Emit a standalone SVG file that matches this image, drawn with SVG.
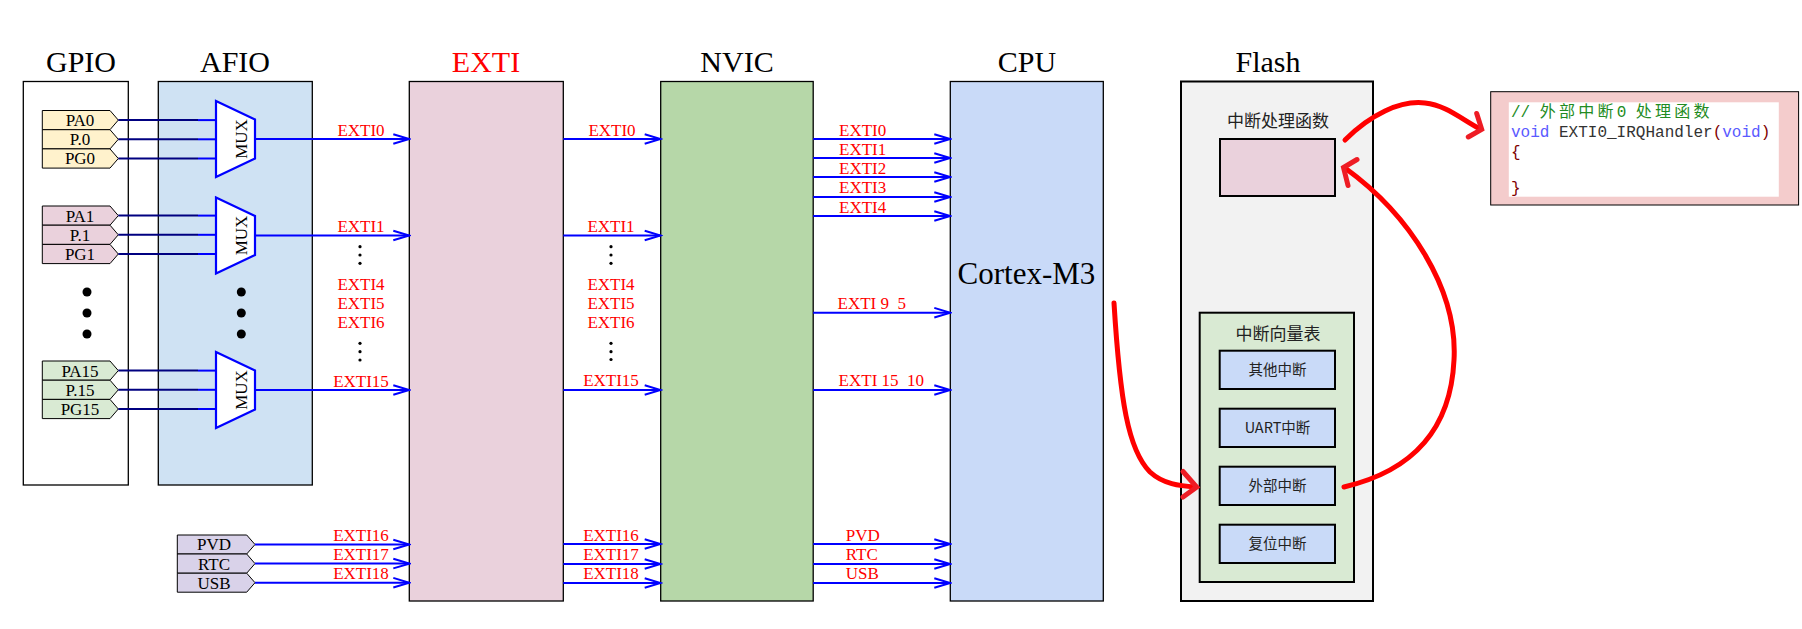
<svg xmlns="http://www.w3.org/2000/svg" width="1802" height="629" viewBox="0 0 1802 629">
<defs>
<style>
.title{font-family:"Liberation Serif",serif;font-size:30px;fill:#000;text-anchor:middle}
.lbl{font-family:"Liberation Serif",serif;font-size:17px;fill:#ff0000}
.c{text-anchor:middle}
.tag{stroke:#000;stroke-width:1}
.tagt{font-family:"Liberation Serif",serif;font-size:17px;fill:#000;text-anchor:middle}
.box{stroke:#000;stroke-width:1.3}
.box2{stroke:#000;stroke-width:2}
.wire{stroke:#0000ff;stroke-width:2;fill:none}
.arr{stroke:#0000ff;stroke-width:2;fill:none;marker-end:url(#ah)}
.navy{stroke:#000080;stroke-width:2}
.mux{fill:#fff;stroke:#0000ff;stroke-width:2.2}
.muxt{font-family:"Liberation Serif",serif;font-size:17px;fill:#000;text-anchor:middle}
.cjk{font-family:"Noto Sans CJK SC","Noto Sans",sans-serif;fill:#222;text-anchor:middle}
.red{stroke:#ff0000;stroke-width:5;fill:none;stroke-linecap:round;stroke-linejoin:round}
.redh{stroke:#ee1c24;stroke-width:5;fill:none;stroke-linecap:round;stroke-linejoin:miter}
.code{font-family:"Liberation Mono","Noto Sans CJK SC",monospace;font-size:16px}
</style>
<marker id="ah" viewBox="-18 -7 20 14" refX="0" refY="0" markerWidth="20" markerHeight="14" markerUnits="userSpaceOnUse" orient="auto">
<path d="M-16,-4.8 L0,0 L-16,4.8" fill="none" stroke="#0000ff" stroke-width="2"/>
</marker>
</defs>
<rect width="1802" height="629" fill="#fff"/>

<!-- titles -->
<text class="title" x="81" y="72">GPIO</text>
<text class="title" x="235" y="72">AFIO</text>
<text class="title" x="486" y="72" style="fill:#ff0000">EXTI</text>
<text class="title" x="737" y="72">NVIC</text>
<text class="title" x="1027" y="72">CPU</text>
<text class="title" x="1268" y="72">Flash</text>

<g id="gpio">
<rect class="box" x="23.3" y="81.5" width="105" height="403.5" fill="#fff"/>
<circle cx="87" cy="292" r="4.5" fill="#000"/>
<circle cx="87" cy="313" r="4.5" fill="#000"/>
<circle cx="87" cy="334" r="4.5" fill="#000"/>
</g>
<g id="afio">
<rect class="box" x="158.3" y="81.5" width="154" height="403.5" fill="#cfe2f3"/>
<circle cx="241.3" cy="292" r="4.5" fill="#000"/>
<circle cx="241.3" cy="313" r="4.5" fill="#000"/>
<circle cx="241.3" cy="334" r="4.5" fill="#000"/>
</g>

<g id="pins0">
<path class="tag" fill="#fff2cc" d="M42.3,110.5 H110 L118.3,120.1 L110,129.7 H42.3 Z"/>
<path class="tag" fill="#fff2cc" d="M42.3,129.7 H110 L118.3,139.3 L110,148.9 H42.3 Z"/>
<path class="tag" fill="#fff2cc" d="M42.3,148.9 H110 L118.3,158.5 L110,168.1 H42.3 Z"/>
<text class="tagt" x="80" y="126">PA0</text>
<text class="tagt" x="80" y="145.2">P.0</text>
<text class="tagt" x="80" y="164.4">PG0</text>
</g>
<g id="pins1">
<path class="tag" fill="#ead1dc" d="M42.3,206 H110 L118.3,215.6 L110,225.2 H42.3 Z"/>
<path class="tag" fill="#ead1dc" d="M42.3,225.2 H110 L118.3,234.8 L110,244.4 H42.3 Z"/>
<path class="tag" fill="#ead1dc" d="M42.3,244.4 H110 L118.3,254 L110,263.6 H42.3 Z"/>
<text class="tagt" x="80" y="221.5">PA1</text>
<text class="tagt" x="80" y="240.7">P.1</text>
<text class="tagt" x="80" y="259.9">PG1</text>
</g>
<g id="pins15">
<path class="tag" fill="#d9ead3" d="M42.3,361 H110 L118.3,370.6 L110,380.2 H42.3 Z"/>
<path class="tag" fill="#d9ead3" d="M42.3,380.2 H110 L118.3,389.8 L110,399.4 H42.3 Z"/>
<path class="tag" fill="#d9ead3" d="M42.3,399.4 H110 L118.3,409 L110,418.6 H42.3 Z"/>
<text class="tagt" x="80" y="376.5">PA15</text>
<text class="tagt" x="80" y="395.7">P.15</text>
<text class="tagt" x="80" y="414.9">PG15</text>
</g>
<g id="pinsx">
<path class="tag" fill="#d9d2e9" d="M177.3,535 H246.7 L255,544.5 L246.7,554 H177.3 Z"/>
<path class="tag" fill="#d9d2e9" d="M177.3,554 H246.7 L255,563.6 L246.7,573.2 H177.3 Z"/>
<path class="tag" fill="#d9d2e9" d="M177.3,573.2 H246.7 L255,582.7 L246.7,592.2 H177.3 Z"/>
<text class="tagt" x="214" y="550.4">PVD</text>
<text class="tagt" x="214" y="569.5">RTC</text>
<text class="tagt" x="214" y="588.6">USB</text>
</g>

<g id="exti">
<rect class="box" x="409.3" y="81.5" width="154" height="519.5" fill="#ead1dc"/>
</g>
<g id="nvic">
<rect class="box" x="660.7" y="81.5" width="152.5" height="519.5" fill="#b6d7a8"/>
</g>
<g id="cpu">
<rect class="box" x="950.3" y="81.5" width="153" height="519.5" fill="#c9daf8"/>
<text x="1026.5" y="284" style="font-family:'Liberation Serif',serif;font-size:31px;text-anchor:middle;fill:#000">Cortex-M3</text>
</g>
<g id="flash">
<rect class="box2" x="1181" y="81.5" width="192" height="519.5" fill="#f2f2f2"/>
<text class="cjk" x="1278" y="127" style="font-size:17px">中断处理函数</text>
<rect class="box2" x="1220" y="139" width="115" height="57" fill="#ead1dc"/>
</g>
<g id="vector-table">
<rect class="box2" x="1199.7" y="312.7" width="154.3" height="269.3" fill="#d9ead3"/>
<text class="cjk" x="1278" y="339.5" style="font-size:17px">中断向量表</text>
</g>
<g id="vt-other"><rect class="box2" x="1219.7" y="350.7" width="115.3" height="38.3" fill="#c9daf8"/><text class="cjk" x="1277.5" y="374.8" style="font-size:14.5px">其他中断</text></g>
<g id="vt-uart"><rect class="box2" x="1219.7" y="408.7" width="115.3" height="38.3" fill="#c9daf8"/><text class="cjk" x="1277.5" y="432.8" style="font-size:14.5px">UART中断</text></g>
<g id="vt-exti"><rect class="box2" x="1219.7" y="466.7" width="115.3" height="38.3" fill="#c9daf8"/><text class="cjk" x="1277.5" y="490.8" style="font-size:14.5px">外部中断</text></g>
<g id="vt-reset"><rect class="box2" x="1219.7" y="524.7" width="115.3" height="38.3" fill="#c9daf8"/><text class="cjk" x="1277.5" y="548.8" style="font-size:14.5px">复位中断</text></g>

<g id="code">
<rect x="1490.7" y="91.7" width="307.9" height="113.3" fill="#f4cccc" stroke="#000" stroke-width="1"/>
<rect x="1508.8" y="102.3" width="270" height="94.4" fill="#fff"/>
<text class="code" x="1511" y="117" fill="#228b22">// <tspan letter-spacing="3.2">外部中断</tspan>0 <tspan letter-spacing="3.2">处理函数</tspan></text>
<text class="code" x="1511" y="137"><tspan fill="#5a5aff">void</tspan><tspan fill="#333"> EXTI0_IRQHandler</tspan><tspan fill="#800000">(</tspan><tspan fill="#5a5aff">void</tspan><tspan fill="#800000">)</tspan></text>
<text class="code" x="1511" y="157" fill="#800000">{</text>
<text class="code" x="1511" y="193" fill="#800000">}</text>
</g>

<g id="muxes">
<path class="mux" d="M216,101 L255,119.5 L255,158.5 L216,177 Z"/>
<text class="muxt" transform="translate(241,139) rotate(-90)" y="6">MUX</text>
<path class="mux" d="M216,197.5 L255,216 L255,255 L216,273.5 Z"/>
<text class="muxt" transform="translate(241,235.5) rotate(-90)" y="6">MUX</text>
<path class="mux" d="M216,352 L255,370.5 L255,409.5 L216,428 Z"/>
<text class="muxt" transform="translate(241,390) rotate(-90)" y="6">MUX</text>
</g>

<g id="labels">
<text class="lbl c" x="361" y="135.5">EXTI0</text>
<text class="lbl c" x="361" y="232">EXTI1</text>
<circle cx="360" cy="246.7" r="1.6"/><circle cx="360" cy="255" r="1.6"/><circle cx="360" cy="263.3" r="1.6"/>
<text class="lbl c" x="361" y="290">EXTI4</text>
<text class="lbl c" x="361" y="309">EXTI5</text>
<text class="lbl c" x="361" y="328">EXTI6</text>
<circle cx="360" cy="343.3" r="1.6"/><circle cx="360" cy="351.7" r="1.6"/><circle cx="360" cy="360" r="1.6"/>
<text class="lbl c" x="361" y="386.5">EXTI15</text>
<text class="lbl c" x="361" y="540.7">EXTI16</text>
<text class="lbl c" x="361" y="560">EXTI17</text>
<text class="lbl c" x="361" y="579">EXTI18</text>

<text class="lbl c" x="612" y="135.5">EXTI0</text>
<text class="lbl c" x="611" y="232">EXTI1</text>
<circle cx="611" cy="246.7" r="1.6"/><circle cx="611" cy="255" r="1.6"/><circle cx="611" cy="263.3" r="1.6"/>
<text class="lbl c" x="611" y="289.5">EXTI4</text>
<text class="lbl c" x="611" y="308.5">EXTI5</text>
<text class="lbl c" x="611" y="327.7">EXTI6</text>
<circle cx="611" cy="343.3" r="1.6"/><circle cx="611" cy="351.7" r="1.6"/><circle cx="611" cy="359.5" r="1.6"/>
<text class="lbl c" x="611" y="386">EXTI15</text>
<text class="lbl c" x="611" y="540.7">EXTI16</text>
<text class="lbl c" x="611" y="560">EXTI17</text>
<text class="lbl c" x="611" y="579">EXTI18</text>

<text class="lbl" x="839" y="135.5">EXTI0</text>
<text class="lbl" x="839" y="154.8">EXTI1</text>
<text class="lbl" x="839" y="174">EXTI2</text>
<text class="lbl" x="839" y="193.3">EXTI3</text>
<text class="lbl" x="839" y="212.7">EXTI4</text>
<text class="lbl" x="837.5" y="308.5">EXTI 9<tspan dy="2.2" fill="#8b0000">_</tspan><tspan dy="-2.2">5</tspan></text>
<text class="lbl" x="838.6" y="386">EXTI 15<tspan dy="2.2" fill="#8b0000">_</tspan><tspan dy="-2.2">10</tspan></text>
<text class="lbl" x="845.7" y="540.7">PVD</text>
<text class="lbl" x="845.7" y="560">RTC</text>
<text class="lbl" x="845.7" y="579">USB</text>
</g>

<g id="connectors">
<line class="navy" x1="118.3" y1="120.1" x2="198" y2="120.1"/><line class="wire" x1="198" y1="120.1" x2="216" y2="120.1"/>
<line class="navy" x1="118.3" y1="139.3" x2="198" y2="139.3"/><line class="wire" x1="198" y1="139.3" x2="216" y2="139.3"/>
<line class="navy" x1="118.3" y1="158.5" x2="198" y2="158.5"/><line class="wire" x1="198" y1="158.5" x2="216" y2="158.5"/>
<line class="navy" x1="118.3" y1="215.6" x2="198" y2="215.6"/><line class="wire" x1="198" y1="215.6" x2="216" y2="215.6"/>
<line class="navy" x1="118.3" y1="234.8" x2="198" y2="234.8"/><line class="wire" x1="198" y1="234.8" x2="216" y2="234.8"/>
<line class="navy" x1="118.3" y1="254" x2="198" y2="254"/><line class="wire" x1="198" y1="254" x2="216" y2="254"/>
<line class="navy" x1="118.3" y1="370.6" x2="198" y2="370.6"/><line class="wire" x1="198" y1="370.6" x2="216" y2="370.6"/>
<line class="navy" x1="118.3" y1="389.8" x2="198" y2="389.8"/><line class="wire" x1="198" y1="389.8" x2="216" y2="389.8"/>
<line class="navy" x1="118.3" y1="409" x2="198" y2="409"/><line class="wire" x1="198" y1="409" x2="216" y2="409"/>
<line class="arr" x1="255" y1="139" x2="409.3" y2="139"/>
<line class="arr" x1="255" y1="235.5" x2="409.3" y2="235.5"/>
<line class="arr" x1="255" y1="390" x2="409.3" y2="390"/>
<line class="arr" x1="255" y1="544.5" x2="409.3" y2="544.5"/>
<line class="arr" x1="255" y1="563.6" x2="409.3" y2="563.6"/>
<line class="arr" x1="255" y1="582.7" x2="409.3" y2="582.7"/>
<line class="arr" x1="563.3" y1="139" x2="660.7" y2="139"/>
<line class="arr" x1="563.3" y1="235.5" x2="660.7" y2="235.5"/>
<line class="arr" x1="563.3" y1="390" x2="660.7" y2="390"/>
<line class="arr" x1="563.3" y1="544" x2="660.7" y2="544"/>
<line class="arr" x1="563.3" y1="564" x2="660.7" y2="564"/>
<line class="arr" x1="563.3" y1="583" x2="660.7" y2="583"/>
<line class="arr" x1="813.2" y1="139" x2="950.3" y2="139"/>
<line class="arr" x1="813.2" y1="158" x2="950.3" y2="158"/>
<line class="arr" x1="813.2" y1="177" x2="950.3" y2="177"/>
<line class="arr" x1="813.2" y1="197" x2="950.3" y2="197"/>
<line class="arr" x1="813.2" y1="216" x2="950.3" y2="216"/>
<line class="arr" x1="813.2" y1="312.7" x2="950.3" y2="312.7"/>
<line class="arr" x1="813.2" y1="390" x2="950.3" y2="390"/>
<line class="arr" x1="813.2" y1="544" x2="950.3" y2="544"/>
<line class="arr" x1="813.2" y1="564" x2="950.3" y2="564"/>
<line class="arr" x1="813.2" y1="583" x2="950.3" y2="583"/>
<path class="red" d="M1114,303 C1120,400 1128,450 1150,472 C1163,484 1180,486 1195,487"/>
<polyline class="redh" points="1183,471.5 1196.7,487 1183,497"/>
<path class="red" d="M1344,487 C1395,475 1450,445 1454,360 C1458,290 1410,215 1345,168"/>
<polyline class="redh" points="1357,159.5 1343.5,167.5 1348,185.5"/>
<path class="red" d="M1345,140 C1370,115 1400,100 1425,103 C1445,105 1460,118 1480,129"/>
<polyline class="redh" points="1476.7,113.5 1481.7,129.3 1468.3,137"/>
</g>
</svg>
